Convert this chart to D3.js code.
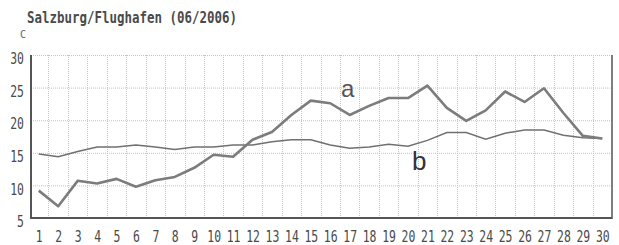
<!DOCTYPE html>
<html><head><meta charset="utf-8">
<script src="https://cdn.jsdelivr.net/npm/d3@7/dist/d3.min.js"></script>
<style>body{margin:0;background:#fff}svg{display:block}</style>
</head><body>
<svg id="chart" width="619" height="245"></svg>
<script>
const title = "Salzburg/Flughafen (06/2006)";
const unit = "C";
const days = [1,2,3,4,5,6,7,8,9,10,11,12,13,14,15,16,17,18,19,20,21,22,23,24,25,26,27,28,29,30];
const seriesA = [9.2,6.8,10.7,10.3,11.0,9.8,10.8,11.3,12.7,14.7,14.4,17.0,18.2,20.8,23.0,22.6,20.8,22.2,23.4,23.4,25.3,21.9,19.9,21.5,24.4,22.8,24.9,21.1,17.6,17.2];
const seriesB = [14.8,14.4,15.2,15.9,15.9,16.2,15.9,15.5,15.9,15.9,16.2,16.2,16.7,17.0,17.0,16.2,15.7,15.9,16.3,16.0,16.9,18.1,18.1,17.1,18.0,18.5,18.5,17.7,17.3,17.2];
const yTicks = [5,10,15,20,25,30];
const labelA = "a", labelB = "b";

const svg = d3.select("#chart");
const L = 31, R = 612, T = 55, B = 218;
const x = d3.scaleLinear().domain([0.6, 30.5]).range([L, R]);
const y = d3.scaleLinear().domain([5, 30]).range([B, T]);
const mono = "'DejaVu Sans Mono', 'Liberation Mono', monospace";

// grid
const grid = svg.append("g").attr("stroke", "#c4c4c4").attr("stroke-width", 1).attr("stroke-dasharray", "1,1");
grid.selectAll("line.h").data(yTicks.slice(1)).join("line")
  .attr("x1", L).attr("x2", R).attr("y1", d => y(d) + 0.5).attr("y2", d => y(d) + 0.5);
grid.selectAll("line.v").data(days.slice(0, -1)).join("line")
  .attr("x1", d => Math.round(x(d + 0.5)) + 0.5).attr("x2", d => Math.round(x(d + 0.5)) + 0.5)
  .attr("y1", T).attr("y2", B);

// axes (via d3 axis, styled)
const yAxis = svg.append("g").attr("transform", `translate(${L},0)`)
  .call(d3.axisLeft(y).tickValues(yTicks).tickSize(0).tickPadding(0));
yAxis.select(".domain").remove();
yAxis.selectAll("text").each(function(d) {
  d3.select(this).attr("x", null).attr("dy", null).attr("y", null)
    .attr("text-anchor", "end").attr("dominant-baseline", "central")
    .attr("font-family", mono).attr("font-size", 13).attr("fill", "#4a4a4a")
    .attr("transform", `translate(-7,3) scale(0.88,1.22)`);
});
yAxis.attr("font-family", null).attr("font-size", null);

const xAxis = svg.append("g").attr("transform", `translate(0,${B})`)
  .call(d3.axisBottom(x).tickValues(days).tickFormat(d3.format("d")).tickSize(0).tickPadding(0));
xAxis.select(".domain").remove();
xAxis.selectAll("text").each(function(d) {
  d3.select(this).attr("x", null).attr("dy", null).attr("y", null)
    .attr("text-anchor", "middle").attr("dominant-baseline", "central")
    .attr("font-family", mono).attr("font-size", 13).attr("fill", "#4a4a4a")
    .attr("transform", `translate(0,18) scale(0.88,1.18)`);
});
xAxis.attr("font-family", null).attr("font-size", null);

// frame lines
svg.append("line").attr("x1", L).attr("x2", L).attr("y1", T).attr("y2", B + 1).attr("stroke", "#555").attr("stroke-width", 2);
svg.append("line").attr("x1", L).attr("x2", R).attr("y1", B).attr("y2", B).attr("stroke", "#555").attr("stroke-width", 2);
svg.append("line").attr("x1", R).attr("x2", R).attr("y1", T).attr("y2", B + 1).attr("stroke", "#555").attr("stroke-width", 1.5);

// lines
const line = d3.line().x((d, i) => x(days[i])).y(d => y(d));
svg.append("path").datum(seriesB).attr("d", line).attr("fill", "none").attr("stroke", "#707070").attr("stroke-width", 1.5);
svg.append("path").datum(seriesA).attr("d", line).attr("fill", "none").attr("stroke", "#7c7c7c").attr("stroke-width", 2.6).attr("stroke-linejoin", "round");

// title and unit
svg.append("text").attr("x", 27).attr("y", 23).text(title)
  .attr("font-family", mono).attr("font-size", 15).attr("font-weight", "bold").attr("fill", "#4a4a4a")
  .attr("textLength", 210).attr("lengthAdjust", "spacingAndGlyphs");
svg.append("text").attr("x", 20).attr("y", 38).text(unit)
  .attr("font-family", mono).attr("font-size", 10).attr("fill", "#666");

// series labels
svg.append("text").attr("x", 341).attr("y", 97).text(labelA)
  .attr("font-family", "'Liberation Sans', Arial, sans-serif").attr("font-size", 24).attr("fill", "#555");
svg.append("text").attr("x", 412).attr("y", 170).text(labelB)
  .attr("font-family", "'Liberation Sans', Arial, sans-serif").attr("font-size", 26).attr("fill", "#333");
</script>
</body></html>
